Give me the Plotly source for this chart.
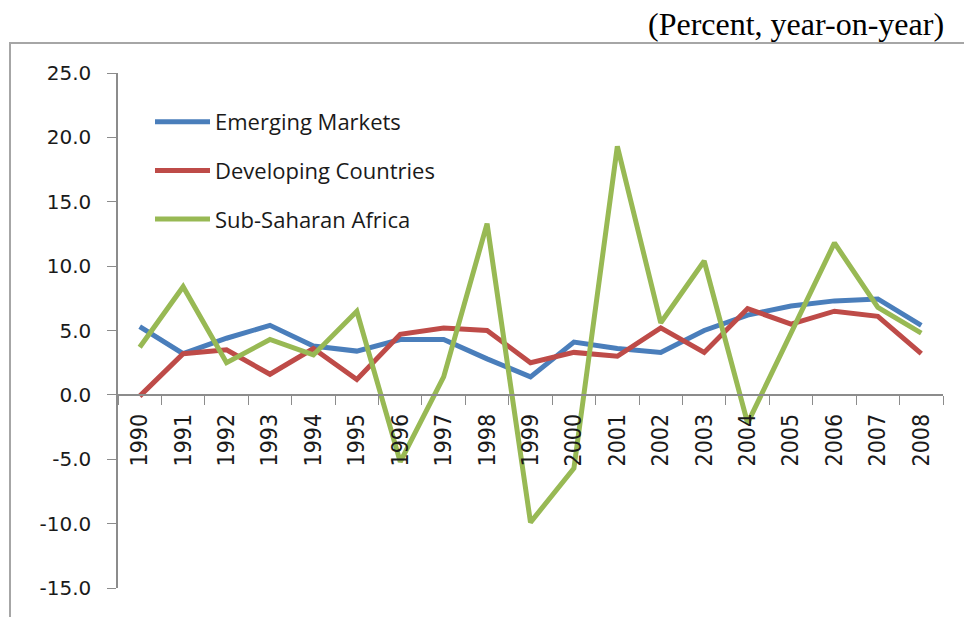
import plotly.graph_objects as go

years = [str(y) for y in range(1990, 2009)]
emerging = [5.3, 3.2, 4.4, 5.4, 3.8, 3.4, 4.3, 4.3, 2.8, 1.4, 4.1, 3.6, 3.3, 5.0, 6.2, 6.9, 7.3, 7.45, 5.4]
developing = [-0.1, 3.2, 3.5, 1.6, 3.6, 1.2, 4.7, 5.2, 5.0, 2.5, 3.3, 3.0, 5.2, 3.3, 6.7, 5.5, 6.5, 6.1, 3.2]
ssa = [3.7, 8.4, 2.5, 4.3, 3.1, 6.5, -5.2, 1.4, 13.3, -9.9, -5.7, 19.3, 5.6, 10.4, -2.2, 4.9, 11.8, 6.8, 4.8]

names = ["Emerging Markets", "Developing Countries", "Sub-Saharan Africa"]
colors = ["#4A7EBB", "#BE4B48", "#98B954"]
series = [emerging, developing, ssa]

y_ticks = [-15, -10, -5, 0, 5, 10, 15, 20, 25]
y_tick_text = ["%.1f" % v for v in y_ticks]

W, H = 964, 617
L, R, T, B = 118, 943, 73, 588

fig = go.Figure()
for i, (nm, c, s) in enumerate(zip(names, colors, series)):
    fig.add_trace(go.Scatter(x=years, y=s, name=nm, mode="lines",
                             line=dict(color=c, width=5),
                             legendgroup="g%d" % i))

pw, ph = R - L, B - T
def px(x):
    return (x - L) / pw
def py(y):
    return (B - y) / ph

fig.update_layout(
    width=W, height=H,
    margin=dict(l=L, r=W - R, t=T, b=H - B, pad=0),
    paper_bgcolor="white", plot_bgcolor="white",
    font=dict(family="DejaVu Sans, Verdana, sans-serif", color="#1a1a1a", size=20),
    showlegend=True,
    legend=dict(x=px(150), y=py(101), xanchor="left", yanchor="top",
                bgcolor="rgba(0,0,0,0)", font=dict(size=22, family="Open Sans, Noto Sans, sans-serif", color="#1a1a1a"),
                itemwidth=55, tracegroupgap=17, traceorder="grouped"),
    xaxis=dict(type="category", range=[-0.5, 18.5], anchor="free", position=0.375,
               showline=True, linecolor="#8c8c8c", linewidth=1.5,
               ticks="outside", tickson="boundaries", ticklen=9, tickcolor="#8c8c8c",
               tickangle=-90, ticklabelstandoff=9,
               tickfont=dict(size=23, family="DejaVu Sans Condensed, DejaVu Sans, sans-serif", color="#1a1a1a"),
               showgrid=False, zeroline=False),
    yaxis=dict(range=[-15, 25], tickvals=y_ticks, ticktext=y_tick_text,
               showline=True, linecolor="#8c8c8c", linewidth=1.5,
               ticks="outside", ticklen=9, tickcolor="#8c8c8c",
               ticklabelstandoff=12,
               showgrid=False, zeroline=False,
               tickfont=dict(size=20)),
    shapes=[dict(type="rect", xref="paper", yref="paper",
                 x0=px(10), x1=px(1000), y0=py(43), y1=py(680),
                 line=dict(color="#a6a6a6", width=2), layer="below")],
    annotations=[dict(text="(Percent, year-on-year)", xref="paper", yref="paper",
                      x=px(946), y=py(24), xanchor="right", yanchor="middle",
                      showarrow=False,
                      font=dict(family="Liberation Serif, Times New Roman, serif", size=32, color="black"))],
)

fig.write_html("out.html", config={"displayModeBar": False},
               post_script="document.body.style.margin='0';")
